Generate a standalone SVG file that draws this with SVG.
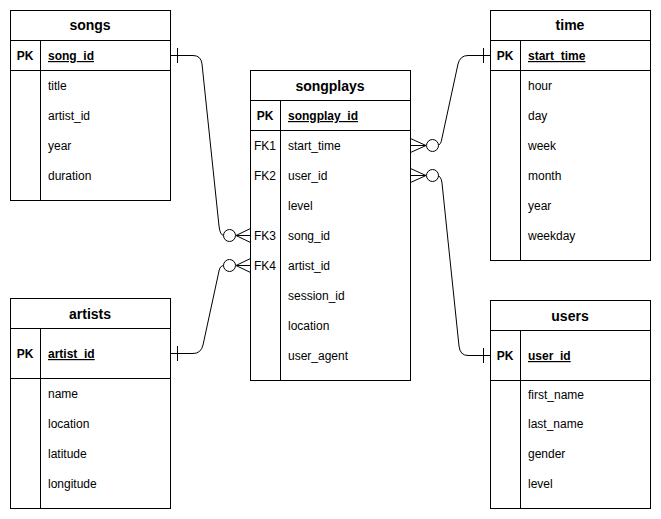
<svg xmlns="http://www.w3.org/2000/svg" width="661" height="519" viewBox="0 0 661 519">
<style>
.box{fill:#fff;stroke:#000;stroke-width:1}
.ln{stroke:#000;stroke-width:1;fill:none}
.t{font-family:"Liberation Sans",Arial,sans-serif;font-size:14px;font-weight:bold;text-anchor:middle;fill:#000}
.k{font-family:"Liberation Sans",Arial,sans-serif;font-size:12px;font-weight:bold;fill:#000}
.kc{font-family:"Liberation Sans",Arial,sans-serif;font-size:12px;font-weight:bold;text-anchor:middle;fill:#000}
.u{text-decoration:underline}
.r{font-family:"Liberation Sans",Arial,sans-serif;font-size:12px;fill:#000}
.rc{font-family:"Liberation Sans",Arial,sans-serif;font-size:12px;text-anchor:middle;fill:#000}
.c{fill:#fff;stroke:#000;stroke-width:1}
</style>
<rect width="661" height="519" fill="#fff"/>
<g id="songs">
<rect class="box" x="10.5" y="10.5" width="160" height="190"/>
<line class="ln" x1="10.5" y1="40.5" x2="170.5" y2="40.5"/>
<line class="ln" x1="10.5" y1="70.5" x2="170.5" y2="70.5"/>
<line class="ln" x1="40.5" y1="40.5" x2="40.5" y2="200.5"/>
<text class="t" x="90" y="30">songs</text>
<text class="kc" x="25" y="60">PK</text>
<text class="k u" x="48" y="60">song_id</text>
<text class="r" x="48" y="90">title</text>
<text class="r" x="48" y="120">artist_id</text>
<text class="r" x="48" y="150">year</text>
<text class="r" x="48" y="180">duration</text>
</g>
<g id="artists">
<rect class="box" x="10.5" y="298.5" width="160" height="210"/>
<line class="ln" x1="10.5" y1="328.5" x2="170.5" y2="328.5"/>
<line class="ln" x1="10.5" y1="378.5" x2="170.5" y2="378.5"/>
<line class="ln" x1="40.5" y1="328.5" x2="40.5" y2="508.5"/>
<text class="t" x="90" y="319">artists</text>
<text class="kc" x="25" y="358">PK</text>
<text class="k u" x="48" y="358">artist_id</text>
<text class="r" x="48" y="398">name</text>
<text class="r" x="48" y="428">location</text>
<text class="r" x="48" y="458">latitude</text>
<text class="r" x="48" y="488">longitude</text>
</g>
<g id="songplays">
<rect class="box" x="250.5" y="70.5" width="160" height="310"/>
<line class="ln" x1="250.5" y1="100.5" x2="410.5" y2="100.5"/>
<line class="ln" x1="250.5" y1="130.5" x2="410.5" y2="130.5"/>
<line class="ln" x1="280.5" y1="100.5" x2="280.5" y2="380.5"/>
<text class="t" x="330" y="91">songplays</text>
<text class="kc" x="265" y="120">PK</text>
<text class="k u" x="288" y="120">songplay_id</text>
<text class="rc" x="265" y="150">FK1</text>
<text class="rc" x="265" y="180">FK2</text>
<text class="rc" x="265" y="240">FK3</text>
<text class="rc" x="265" y="270">FK4</text>
<text class="r" x="288" y="150">start_time</text>
<text class="r" x="288" y="180">user_id</text>
<text class="r" x="288" y="210">level</text>
<text class="r" x="288" y="240">song_id</text>
<text class="r" x="288" y="270">artist_id</text>
<text class="r" x="288" y="300">session_id</text>
<text class="r" x="288" y="330">location</text>
<text class="r" x="288" y="360">user_agent</text>
</g>
<g id="time">
<rect class="box" x="490.5" y="10.5" width="160" height="250"/>
<line class="ln" x1="490.5" y1="40.5" x2="650.5" y2="40.5"/>
<line class="ln" x1="490.5" y1="70.5" x2="650.5" y2="70.5"/>
<line class="ln" x1="520.5" y1="40.5" x2="520.5" y2="260.5"/>
<text class="t" x="570" y="30">time</text>
<text class="kc" x="505" y="60">PK</text>
<text class="k u" x="528" y="60">start_time</text>
<text class="r" x="528" y="90">hour</text>
<text class="r" x="528" y="120">day</text>
<text class="r" x="528" y="150">week</text>
<text class="r" x="528" y="180">month</text>
<text class="r" x="528" y="210">year</text>
<text class="r" x="528" y="240">weekday</text>
</g>
<g id="users">
<rect class="box" x="490.5" y="300.5" width="160" height="208"/>
<line class="ln" x1="490.5" y1="330.5" x2="650.5" y2="330.5"/>
<line class="ln" x1="490.5" y1="380.5" x2="650.5" y2="380.5"/>
<line class="ln" x1="520.5" y1="330.5" x2="520.5" y2="508.5"/>
<text class="t" x="570" y="321">users</text>
<text class="kc" x="505" y="360">PK</text>
<text class="k u" x="528" y="360">user_id</text>
<text class="r" x="528" y="399">first_name</text>
<text class="r" x="528" y="428">last_name</text>
<text class="r" x="528" y="458">gender</text>
<text class="r" x="528" y="488">level</text>
</g>
<g id="connectors">
<path class="ln" d="M170.5,55.5 H193 Q201,55.5 202,64 L219,226 Q220,235.5 224,235.5"/>
<line class="ln" x1="177.5" y1="48" x2="177.5" y2="63"/>
<circle class="c" cx="229.5" cy="235.5" r="6"/>
<path class="ln" d="M236,235.5 L250.5,228.5 M236,235.5 H250.5 M236,235.5 L250.5,242.5"/>

<path class="ln" d="M170.5,353.5 H193 Q201,353.5 203,345 L219,271 Q220,265.5 224,265.5"/>
<line class="ln" x1="177.5" y1="346" x2="177.5" y2="361"/>
<circle class="c" cx="229.5" cy="265.5" r="6"/>
<path class="ln" d="M236,265.5 L250.5,258.5 M236,265.5 H250.5 M236,265.5 L250.5,272.5"/>

<path class="ln" d="M490.5,55.5 H468 Q460,55.5 458,64 L442,138 Q441,145.5 437,145.5"/>
<line class="ln" x1="483.5" y1="48" x2="483.5" y2="63"/>
<circle class="c" cx="432.5" cy="145.5" r="6"/>
<path class="ln" d="M426,145.5 L410.5,138.5 M426,145.5 H410.5 M426,145.5 L410.5,152.5"/>

<path class="ln" d="M490.5,355.5 H468 Q460,355.5 459,346 L442,183 Q441,175.5 437,175.5"/>
<line class="ln" x1="483.5" y1="348" x2="483.5" y2="363"/>
<circle class="c" cx="432.5" cy="175.5" r="6"/>
<path class="ln" d="M426,175.5 L410.5,168.5 M426,175.5 H410.5 M426,175.5 L410.5,182.5"/>
</g>
</svg>
